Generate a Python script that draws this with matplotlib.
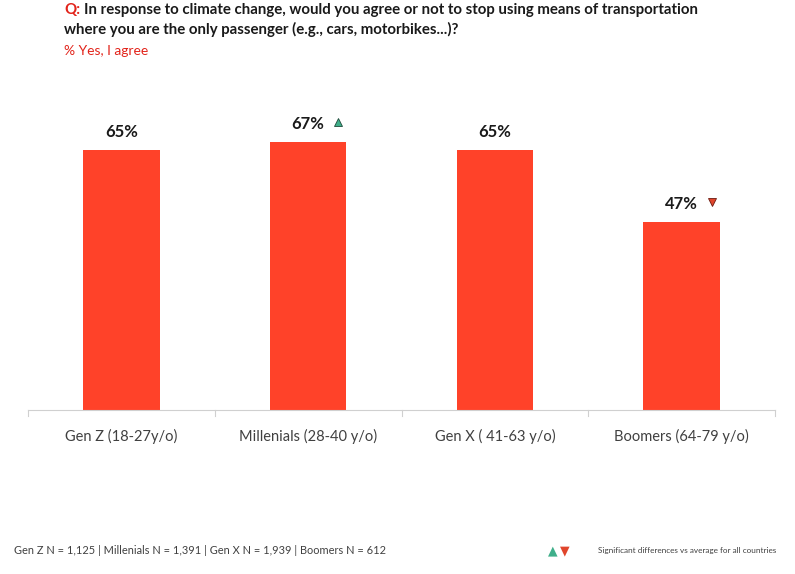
import matplotlib.pyplot as plt

# data
categories = ["Gen Z (18-27y/o)", "Millenials (28-40 y/o)", "Gen X ( 41-63 y/o)", "Boomers (64-79 y/o)"]
values = [65, 67, 65, 47]
labels = ["65%", "67%", "65%", "47%"]
sig = [None, "up", None, "down"]   # significance vs average
footnote = "Gen Z N = 1,125 | Millenials N = 1,391 | Gen X N = 1,939 | Boomers N = 612"

plt.rcParams['font.family'] = ['Lato', 'DejaVu Sans']

BAR = "#FF4229"
RED = "#E2231A"
UP = "#3FAF8A"
DOWN = "#E0452C"

fig = plt.figure(figsize=(7.95, 5.74), dpi=100)
W, H = 795, 574
ax = fig.add_axes([28 / W, (H - 410) / H, 747 / W, 280 / H])

x = list(range(len(categories)))
ax.bar(x, values, width=0.41, color=BAR)
ax.set_xlim(-0.5, len(categories) - 0.5)
ax.set_ylim(0, 70)

for s in ["top", "right", "left"]:
    ax.spines[s].set_visible(False)
ax.spines["bottom"].set_color("#d0d0d0")
ax.set_yticks([])
ax.set_xticks([])
for i in range(len(categories) + 1):
    ax.plot([i - 0.5, i - 0.5], [0, -1.5], color="#d0d0d0", lw=0.8, clip_on=False)
for i, c in enumerate(categories):
    ax.text(i, -6.5, c, ha="center", va="center", fontsize=10.5, color="#404040")

for i, (v, lab, s) in enumerate(zip(values, labels, sig)):
    ax.text(i, v + 4.5, lab, ha="center", va="center", fontsize=12, fontweight="bold", color="#1a1a1a")
    if s == "up":
        ax.plot(i + 0.16, v + 5.0, marker="^", ms=6, mfc=UP, mec="#1f4a3a", mew=0.6, clip_on=False)
    elif s == "down":
        ax.plot(i + 0.16, v + 5.0, marker="v", ms=6, mfc=DOWN, mec="#6a1a10", mew=0.6, clip_on=False)

# title block
fig.text(64 / W, 1 - 10 / H, "Q:", color=RED, fontsize=10.8, fontweight="bold", va="center", ha="left")
fig.text(84 / W, 1 - 10 / H, "In response to climate change, would you agree or not to stop using means of transportation",
         color="#1a1a1a", fontsize=10.8, fontweight="bold", va="center", ha="left")
fig.text(64 / W, 1 - 29.5 / H, "where you are the only passenger (e.g., cars, motorbikes...)?",
         color="#1a1a1a", fontsize=10.8, fontweight="bold", va="center", ha="left")
fig.text(64 / W, 1 - 51 / H, "% Yes, I agree", color=RED, fontsize=10, va="center", ha="left")

# footer
fig.text(14 / W, 1 - 551 / H, footnote, color="#404040", fontsize=7.9, va="center", ha="left")
fig.text(553 / W, 1 - 550 / H, "\u25B2", color=UP, fontsize=9, va="center", ha="center")
fig.text(565 / W, 1 - 550 / H, "\u25BC", color=DOWN, fontsize=9, va="center", ha="center")
fig.text(598 / W, 1 - 550 / H, "Significant differences vs average for all countries",
         color="#404040", fontsize=5.9, va="center", ha="left")

fig.savefig("out.png", dpi=100, facecolor="white")
